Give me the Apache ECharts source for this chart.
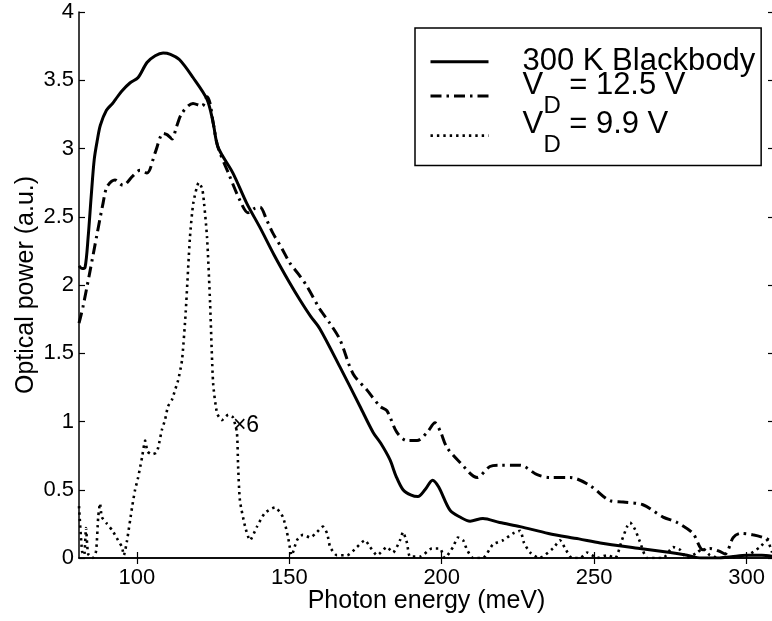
<!DOCTYPE html>
<html>
<head>
<meta charset="utf-8">
<script src="https://cdn.jsdelivr.net/npm/echarts@6/dist/echarts.min.js"></script>
<style>
  html, body { margin: 0; padding: 0; background: #fff; }
  #chart { width: 772px; height: 621px; }
</style>
</head>
<body>
<div id="chart"></div>
<script>
// photon energy (meV) vs optical power (a.u.)
const blackbody = [
    [81, 2.14], [82, 2.12], [83, 2.13], [84, 2.35], [85, 2.65], [86, 2.92], [87, 3.06],
    [88, 3.17], [90, 3.28], [92, 3.33], [93, 3.36], [95, 3.42], [97.7, 3.48], [100.4, 3.52],
    [103.3, 3.63], [106, 3.68], [108.6, 3.70], [111, 3.69], [114, 3.65], [118.4, 3.52],
    [123, 3.36], [125, 3.19], [126.6, 3.01], [131.5, 2.82], [136, 2.60], [140.4, 2.42],
    [145, 2.22], [150, 2.02], [153.5, 1.89], [157, 1.77], [160, 1.68], [166.6, 1.40],
    [173.2, 1.11], [177.5, 0.92], [180, 0.84], [183, 0.72], [185, 0.60], [187.3, 0.50],
    [190, 0.46], [192.2, 0.45], [194.5, 0.50], [197, 0.57], [199, 0.52], [202.7, 0.35],
    [206, 0.30], [209.3, 0.27], [213.5, 0.29], [219, 0.26], [225.7, 0.23], [235, 0.18],
    [245, 0.14], [252, 0.11], [265, 0.07], [275, 0.04], [280.5, 0.02], [285, 0.0],
    [290, 0.0], [295, 0.01], [300, 0.02], [305, 0.02], [309, 0.01]
];

const vd125 = [
    [81, 1.72], [82.3, 1.84], [84.6, 2.10], [86.9, 2.37], [88.9, 2.60], [90.2, 2.72],
    [92.8, 2.77], [95.4, 2.73], [98.7, 2.80], [101, 2.84], [103.3, 2.82], [106, 2.97],
    [108.6, 3.11], [110, 3.10], [111.5, 3.07], [113, 3.16], [114.8, 3.26], [118.4, 3.33],
    [121.4, 3.31], [123, 3.38], [124, 3.33], [125, 3.19], [126.6, 3.01], [130, 2.82],
    [133.8, 2.62], [136.4, 2.53], [138.5, 2.56], [140.4, 2.57], [142.5, 2.48], [144.6, 2.38],
    [147.5, 2.27], [150.2, 2.16], [153, 2.08], [155.8, 1.99], [160.1, 1.82], [163.3, 1.72],
    [166.6, 1.60], [170.9, 1.35], [175.5, 1.23], [179.8, 1.11], [182, 1.08], [185.3, 0.92],
    [188.6, 0.86], [191.9, 0.86], [195.2, 0.92], [197.8, 0.99], [199.5, 0.93], [201.7, 0.81],
    [206, 0.70], [211.6, 0.59], [215.8, 0.67], [219.1, 0.68], [225.7, 0.68], [231.3, 0.61],
    [235.5, 0.59], [242.1, 0.59], [248.7, 0.53], [255.2, 0.42], [259.5, 0.41], [266, 0.39],
    [272.6, 0.30], [277.2, 0.26], [282.4, 0.18], [285.7, 0.06], [288, 0.07], [291, 0.05],
    [293, 0.03], [295.6, 0.15], [298, 0.18], [302, 0.17], [306.7, 0.14], [309, 0.10]
];

// 9.9 V trace, already multiplied by 6
const vd99 = [
    [81, 0.38], [82, 0.05], [82.7, 0.02], [83.3, 0.22], [84, 0.03], [85.5, 0.0], [86.6, 0.05],
    [87.3, 0.30], [87.9, 0.40], [88.5, 0.30], [90.2, 0.25], [92, 0.20], [93.8, 0.13],
    [95.1, 0.08], [95.7, 0.02], [96.7, 0.12], [98.4, 0.37], [99.4, 0.50], [100.4, 0.59],
    [101.7, 0.74], [102.7, 0.86], [103.5, 0.78], [105, 0.76], [106.3, 0.77], [107, 0.81],
    [108.2, 0.94], [109.2, 1.01], [110.2, 1.11], [111.5, 1.16], [112.5, 1.23], [113.5, 1.30],
    [114.8, 1.45], [116, 1.80], [117.4, 2.35], [118.5, 2.60], [120.3, 2.75], [121.5, 2.70],
    [123, 2.35], [124, 1.87], [125, 1.28], [126.3, 1.06], [127.9, 1.01], [130, 1.05],
    [131.5, 1.03], [132.8, 0.92], [133.2, 0.67], [133.8, 0.42], [135.5, 0.23], [137.1, 0.13],
    [139.4, 0.23], [142, 0.33], [145.3, 0.37], [147.9, 0.30], [149.6, 0.15], [150.8, 0.02],
    [152.5, 0.13], [154.5, 0.17], [156.8, 0.15], [159.1, 0.19], [161, 0.23], [162.4, 0.18],
    [163.4, 0.08], [165.6, 0.02], [168.9, 0.02], [172.2, 0.08], [174.8, 0.13], [176.5, 0.08],
    [178.8, 0.02], [182, 0.08], [184, 0.04], [186.3, 0.13], [187.3, 0.19], [188.6, 0.11],
    [189.6, 0.01], [192.9, 0.01], [196.8, 0.07], [199.4, 0.07], [201, 0.0], [203.7, 0.08],
    [205.3, 0.15], [207, 0.13], [208.3, 0.06], [210.3, 0.0], [213.5, 0.0], [216.8, 0.10],
    [220.1, 0.13], [223.4, 0.18], [225.7, 0.20], [227, 0.11], [229, 0.04], [232, 0.0],
    [236.5, 0.07], [238.8, 0.13], [240.5, 0.07], [242.7, 0.0], [245.4, 0.0], [247.7, 0.04],
    [251, 0.0], [254.2, 0.02], [256.9, 0.0], [259.1, 0.13], [260.8, 0.23], [261.8, 0.26],
    [263.4, 0.21], [265, 0.12], [267.4, 0.0], [272.6, 0.0], [275.9, 0.08], [278.2, 0.06],
    [280.5, 0.0], [283.8, 0.04], [285.7, 0.07], [288, 0.02], [291.3, 0.0], [300.2, 0.02],
    [304.4, 0.08], [306.7, 0.13], [308.4, 0.04]
];

const xTicks = [100, 150, 200, 250, 300];
const seriesNames = ['300 K Blackbody', 'VD = 12.5 V', 'VD = 9.9 V'];
const scaleNote = { text: '×6', at: [131.5, 0.97] };

const font = "'Liberation Sans', Arial, Helvetica, sans-serif";

let chart = echarts.init(document.getElementById('chart'), null, { renderer: 'canvas' });

let xBase = {
    type: 'value',
    min: 81,
    max: 309,
    splitLine: { show: false },
    axisLine: { lineStyle: { color: '#000', width: 1.5 } },
    axisTick: { inside: true, length: 6, customValues: xTicks, lineStyle: { color: '#000', width: 1.2 } }
};
let yBase = {
    type: 'value',
    min: 0,
    max: 4,
    interval: 0.5,
    splitLine: { show: false },
    axisLine: { lineStyle: { color: '#000', width: 1.5 } },
    axisTick: { inside: true, length: 6, lineStyle: { color: '#000', width: 1.2 } }
};

// legend text: main line on top, subscript D on a second short line
let legendFormatter = function (name) {
    if (name === seriesNames[0]) return '{n|' + name + '}';
    return '{v|V}{m|' + name.slice(3) + '}\n{s|D}';
};

let option = {
    animation: false,
    backgroundColor: '#fff',
    textStyle: { fontFamily: font, color: '#000' },
    grid: { left: 79, top: 12, width: 695, height: 546, outerBoundsMode: 'none' },
    legend: {
        orient: 'vertical',
        left: 415,
        top: 28,
        padding: [17, 6, 8, 14],
        itemGap: -9,
        itemWidth: 58,
        itemHeight: 42,
        borderColor: '#000',
        borderWidth: 1.5,
        borderRadius: 0,
        backgroundColor: '#fff',
        selectedMode: false,
        data: seriesNames,
        lineStyle: { width: 'inherit' },
        itemStyle: { color: 'transparent', borderWidth: 0, opacity: 0 },
        formatter: legendFormatter,
        textStyle: {
            fontFamily: font,
            color: '#000',
            rich: {
                n: { fontSize: 31, lineHeight: 42, padding: [0, 0, 0, 29], fontFamily: font, color: '#000' },
                v: { fontSize: 31, lineHeight: 20, padding: [0, 0, 0, 29], fontFamily: font, color: '#000' },
                m: { fontSize: 31, lineHeight: 20, padding: [0, 0, 0, 26], fontFamily: font, color: '#000' },
                s: { fontSize: 24, lineHeight: 22, padding: [0, 0, 0, 50], fontFamily: font, color: '#000' }
            }
        }
    },
    xAxis: [
        Object.assign({}, xBase, {
            position: 'bottom',
            name: 'Photon energy (meV)',
            nameLocation: 'middle',
            nameGap: 31,
            nameMoveOverlap: false,
            nameTextStyle: { fontSize: 25, color: '#000', fontFamily: font },
            axisLabel: { customValues: xTicks, fontSize: 22, color: '#000', margin: 9, fontFamily: font }
        }),
        Object.assign({}, xBase, { position: 'top', axisLabel: { show: false } })
    ],
    yAxis: [
        Object.assign({}, yBase, {
            position: 'left',
            name: 'Optical power (a.u.)',
            nameLocation: 'middle',
            nameGap: 40,
            nameMoveOverlap: false,
            nameTextStyle: { fontSize: 25, color: '#000', fontFamily: font },
            axisLabel: { fontSize: 22, color: '#000', margin: 5, fontFamily: font }
        }),
        Object.assign({}, yBase, { position: 'right', axisLabel: { show: false } })
    ],
    series: [
        {
            name: seriesNames[0],
            type: 'line',
            data: blackbody,
            symbol: 'none',
            smooth: 0.3,
            lineStyle: { color: '#000', width: 3 },
            itemStyle: { color: '#000' }
        },
        {
            name: seriesNames[1],
            type: 'line',
            data: vd125,
            symbol: 'none',
            smooth: 0.3,
            lineStyle: { color: '#000', width: 3, type: [11, 5, 2.5, 5] },
            itemStyle: { color: '#000' }
        },
        {
            name: seriesNames[2],
            type: 'line',
            data: vd99,
            symbol: 'none',
            smooth: 0.2,
            lineStyle: { color: '#000', width: 2.6, type: [2.4, 4] },
            itemStyle: { color: '#000' },
            markPoint: {
                symbol: 'circle',
                symbolSize: 0,
                silent: true,
                label: {
                    show: true,
                    position: 'right',
                    distance: 0,
                    formatter: scaleNote.text,
                    fontSize: 23,
                    color: '#000',
                    fontFamily: font
                },
                data: [{ coord: scaleNote.at }]
            }
        }
    ]
};

chart.setOption(option);
</script>
</body>
</html>
